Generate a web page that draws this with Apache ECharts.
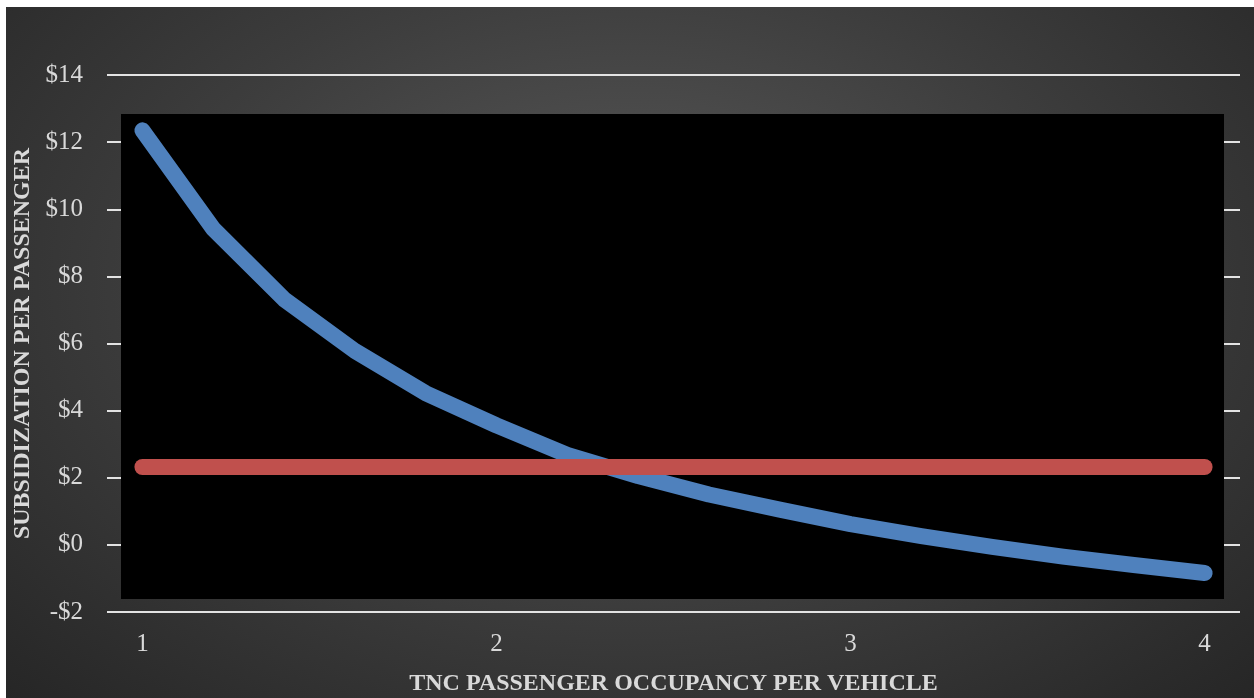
<!DOCTYPE html>
<html>
<head>
<meta charset="utf-8">
<script src="https://cdn.jsdelivr.net/npm/echarts@6/dist/echarts.min.js"></script>
<style>
  html, body { margin: 0; padding: 0; background: #ffffff; width: 1254px; height: 698px; overflow: hidden; }
  #chart {
    position: absolute; left: 6px; top: 7px; width: 1248px; height: 691px;
    background: radial-gradient(ellipse farthest-corner at 50% 40%, #5a5a5a 0%, #3c3c3c 55%, #262626 100%);
  }
</style>
</head>
<body>
<div id="chart"></div>
<script>
// Passenger occupancy per vehicle (x) and subsidy per passenger in dollars (y)
const occupancy = [1.0, 1.2, 1.4, 1.6, 1.8, 2.0, 2.2, 2.4, 2.6, 2.8, 3.0, 3.2, 3.4, 3.6, 3.8, 4.0];
const subsidy   = [12.35, 9.42, 7.32, 5.78, 4.52, 3.56, 2.68, 2.05, 1.50, 1.05, 0.62, 0.26, -0.06, -0.35, -0.60, -0.84];
const threshold = [2.32, 2.32, 2.32, 2.32, 2.32, 2.32, 2.32, 2.32, 2.32, 2.32, 2.32, 2.32, 2.32, 2.32, 2.32, 2.32];
const xTickValues = [1, 2, 3, 4];

const xTitle = 'TNC PASSENGER OCCUPANCY PER VEHICLE';
const yTitle = 'SUBSIDIZATION PER PASSENGER';

const grid = { left: 101, right: 14, top: 68, bottom: 86 };
const textColor = '#d9d9d9';
const serif = '"Liberation Serif", "Times New Roman", serif';

const chart = echarts.init(document.getElementById('chart'), null, { renderer: 'canvas' });

const pair = (ys) => occupancy.map((x, i) => [x, ys[i]]);

chart.setOption({
  animation: false,
  backgroundColor: 'transparent',
  grid: {
    left: grid.left, right: grid.right, top: grid.top, bottom: grid.bottom,
    containLabel: false,
    outerBoundsMode: 'none'
  },
  xAxis: {
    type: 'value',
    min: 0.9,
    max: 4.1,
    axisLine: { show: false },
    axisTick: { show: false },
    splitLine: { show: false },
    axisLabel: {
      customValues: xTickValues,
      color: textColor,
      fontFamily: serif,
      fontSize: 25,
      margin: 20
    },
    name: xTitle,
    nameLocation: 'middle',
    nameGap: 60,
    nameTextStyle: { color: textColor, fontFamily: serif, fontSize: 24, fontWeight: 'bold' }
  },
  yAxis: {
    type: 'value',
    min: -2,
    max: 14,
    interval: 2,
    axisLine: { show: false },
    axisTick: { show: false },
    splitLine: { show: true, lineStyle: { color: '#e3e3e3', width: 2 } },
    axisLabel: {
      color: textColor,
      fontFamily: serif,
      fontSize: 25,
      margin: 24,
      formatter: (v) => (v < 0 ? '-$' + Math.abs(v) : '$' + v)
    },
    name: yTitle,
    nameLocation: 'middle',
    nameGap: 72,
    nameRotate: 90,
    nameTextStyle: { color: textColor, fontFamily: serif, fontSize: 24, fontWeight: 'bold' }
  },
  series: [
    {
      name: 'Subsidy per passenger',
      type: 'line',
      data: pair(subsidy),
      showSymbol: false,
      z: 3,
      lineStyle: { color: '#4f81bd', width: 16, cap: 'round', join: 'round' }
    },
    {
      name: 'Threshold',
      type: 'line',
      data: pair(threshold),
      showSymbol: false,
      z: 4,
      lineStyle: { color: '#c0504d', width: 16, cap: 'round', join: 'round' }
    }
  ]
});

// Black plot panel sitting over the gridlines, inset from the grid edges
const gridRect = chart.getModel().getComponent('grid').coordinateSystem.getRect();
chart.setOption({
  graphic: [{
    type: 'rect',
    z: 1,
    silent: true,
    shape: {
      x: gridRect.x + 14,
      y: gridRect.y + 39,
      width: gridRect.width - 30,
      height: gridRect.height - 52
    },
    style: { fill: '#000000' }
  }]
});
</script>
</body>
</html>
